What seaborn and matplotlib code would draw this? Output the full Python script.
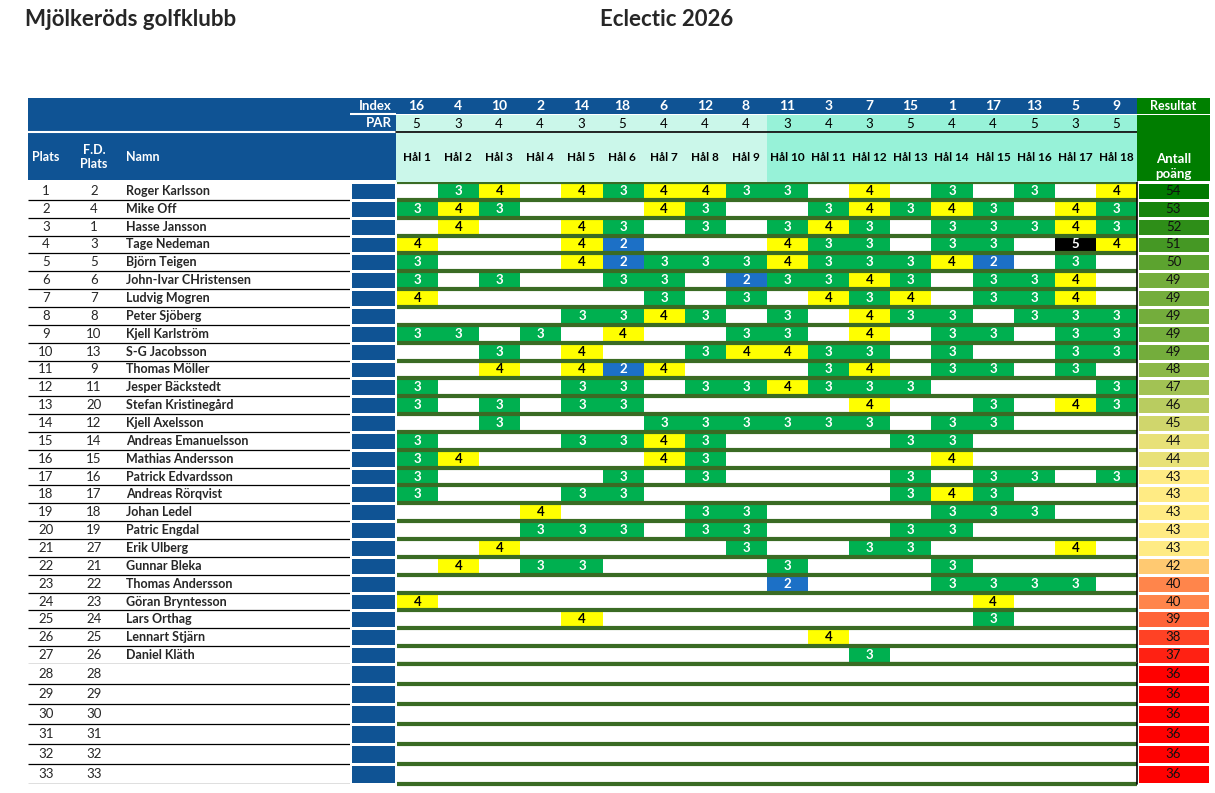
import numpy as np
import matplotlib.pyplot as plt
import seaborn as sns
from matplotlib.colors import ListedColormap, LinearSegmentedColormap

sns.set_style("white")
plt.rcParams["font.family"] = ["Lato", "DejaVu Sans"]

# --- data read from the sheet
hole_no = [1, 2, 3, 4, 5, 6, 7, 8, 9, 10, 11, 12, 13, 14, 15, 16, 17, 18]
hole_index = [16, 4, 10, 2, 14, 18, 6, 12, 8, 11, 3, 7, 15, 1, 17, 13, 5, 9]
hole_par = [5, 3, 4, 4, 3, 5, 4, 4, 4, 3, 4, 3, 5, 4, 4, 5, 3, 5]

plats = [1, 2, 3, 4, 5, 6, 7, 8, 9, 10, 11, 12, 13, 14, 15, 16, 17,
         18, 19, 20, 21, 22, 23, 24, 25, 26, 27, 28, 29, 30, 31, 32, 33]
fd_plats = [2, 4, 1, 3, 5, 6, 7, 8, 10, 13, 9, 11, 20, 12, 14, 15, 16,
            17, 18, 19, 27, 21, 22, 23, 24, 25, 26, 28, 29, 30, 31, 32, 33]
names = ["Roger Karlsson", "Mike Off", "Hasse Jansson", "Tage Nedeman",
         "Björn Teigen", "John-Ivar CHristensen", "Ludvig Mogren",
         "Peter Sjöberg", "Kjell Karlström", "S-G Jacobsson", "Thomas Möller",
         "Jesper Bäckstedt", "Stefan Kristinegård", "Kjell Axelsson",
         "Andreas Emanuelsson", "Mathias Andersson", "Patrick Edvardsson",
         "Andreas Rörqvist", "Johan Ledel", "Patric Engdal", "Erik Ulberg",
         "Gunnar Bleka", "Thomas Andersson", "Göran Bryntesson", "Lars Orthag",
         "Lennart Stjärn", "Daniel Kläth", "", "", "", "", "", ""]
resultat = [54, 53, 52, 51, 50, 49, 49, 49, 49, 49, 48, 47, 46, 45, 44, 44, 43,
            43, 43, 43, 43, 42, 40, 40, 39, 38, 37, 36, 36, 36, 36, 36, 36]

# best score per hole, 0 = empty cell
scores = [
    [0, 3, 4, 0, 4, 3, 4, 4, 3, 3, 0, 4, 0, 3, 0, 3, 0, 4],
    [3, 4, 3, 0, 0, 0, 4, 3, 0, 0, 3, 4, 3, 4, 3, 0, 4, 3],
    [0, 4, 0, 0, 4, 3, 0, 3, 0, 3, 4, 3, 0, 3, 3, 3, 4, 3],
    [4, 0, 0, 0, 4, 2, 0, 0, 0, 4, 3, 3, 0, 3, 3, 0, 5, 4],
    [3, 0, 0, 0, 4, 2, 3, 3, 3, 4, 3, 3, 3, 4, 2, 0, 3, 0],
    [3, 0, 3, 0, 0, 3, 3, 0, 2, 3, 3, 4, 3, 0, 3, 3, 4, 0],
    [4, 0, 0, 0, 0, 0, 3, 0, 3, 0, 4, 3, 4, 0, 3, 3, 4, 0],
    [0, 0, 0, 0, 3, 3, 4, 3, 0, 3, 0, 4, 3, 3, 0, 3, 3, 3],
    [3, 3, 0, 3, 0, 4, 0, 0, 3, 3, 0, 4, 0, 3, 3, 0, 3, 3],
    [0, 0, 3, 0, 4, 0, 0, 3, 4, 4, 3, 3, 0, 3, 0, 0, 3, 3],
    [0, 0, 4, 0, 4, 2, 4, 0, 0, 0, 3, 4, 0, 3, 3, 0, 3, 0],
    [3, 0, 0, 0, 3, 3, 0, 3, 3, 4, 3, 3, 3, 0, 0, 0, 0, 3],
    [3, 0, 3, 0, 3, 3, 0, 0, 0, 0, 0, 4, 0, 0, 3, 0, 4, 3],
    [0, 0, 3, 0, 0, 0, 3, 3, 3, 3, 3, 3, 0, 3, 3, 0, 0, 0],
    [3, 0, 0, 0, 3, 3, 4, 3, 0, 0, 0, 0, 3, 3, 0, 0, 0, 0],
    [3, 4, 0, 0, 0, 0, 4, 3, 0, 0, 0, 0, 0, 4, 0, 0, 0, 0],
    [3, 0, 0, 0, 0, 3, 0, 3, 0, 0, 0, 0, 3, 0, 3, 3, 0, 3],
    [3, 0, 0, 0, 3, 3, 0, 0, 0, 0, 0, 0, 3, 4, 3, 0, 0, 0],
    [0, 0, 0, 4, 0, 0, 0, 3, 3, 0, 0, 0, 0, 3, 3, 3, 0, 0],
    [0, 0, 0, 3, 3, 3, 0, 3, 3, 0, 0, 0, 3, 3, 0, 0, 0, 0],
    [0, 0, 4, 0, 0, 0, 0, 0, 3, 0, 0, 3, 3, 0, 0, 0, 4, 0],
    [0, 4, 0, 3, 3, 0, 0, 0, 0, 3, 0, 0, 0, 3, 0, 0, 0, 0],
    [0, 0, 0, 0, 0, 0, 0, 0, 0, 2, 0, 0, 0, 3, 3, 3, 3, 0],
    [4, 0, 0, 0, 0, 0, 0, 0, 0, 0, 0, 0, 0, 0, 4, 0, 0, 0],
    [0, 0, 0, 0, 4, 0, 0, 0, 0, 0, 0, 0, 0, 0, 3, 0, 0, 0],
    [0, 0, 0, 0, 0, 0, 0, 0, 0, 0, 4, 0, 0, 0, 0, 0, 0, 0],
    [0, 0, 0, 0, 0, 0, 0, 0, 0, 0, 0, 3, 0, 0, 0, 0, 0, 0],
    [0] * 18,
    [0] * 18,
    [0] * 18,
    [0] * 18,
    [0] * 18,
    [0] * 18,
]

# --- colours
BLUE = "#0f5394"
LINE_GREEN = "#3a6b24"
MINT = ["#cbf7ea", "#97f2d8"]
cell_cmap = ListedColormap(["white", "#1c70c6", "#00b050", "#ffff00", "black"])
code_of = {0: 0, 2: 1, 3: 2, 4: 3, 5: 4}
res_cmap = LinearSegmentedColormap.from_list(
    "res", [(0.0, "#ff0000"), ((43 - 36) / (54 - 36), "#ffeb84"), (1.0, "#007a00")])

W, H = 1215, 793
fig = plt.figure(figsize=(W / 100, H / 100), dpi=100)


def px_axes(x0, y0, x1, y1):
    # axes placed in pixel coords, y measured from top
    return fig.add_axes([x0 / W, 1 - y1 / H, (x1 - x0) / W, (y1 - y0) / H])


def plain(ax):
    ax.set_xticks([])
    ax.set_yticks([])
    for s in ax.spines.values():
        s.set_visible(False)


def draw_block(r0, r1, y_top, y_bot):
    n = r1 - r0
    rows = scores[r0:r1]
    codes = np.array([[code_of[v] for v in row] for row in rows])
    labels = np.array([[str(v) if v else "" for v in row] for row in rows])

    # score grid
    ax = px_axes(397, y_top, 1137, y_bot)
    sns.heatmap(codes, cmap=cell_cmap, vmin=-0.5, vmax=4.5, annot=labels, fmt="",
                cbar=False, xticklabels=False, yticklabels=False,
                annot_kws=dict(fontsize=9.5, fontweight="bold"), ax=ax)
    for t in ax.texts:
        t.set_color("black" if t.get_text() == "4" else "white")
    ax.hlines(np.arange(n + 1), 0, len(hole_no), colors=LINE_GREEN, lw=3, clip_on=False)

    # result column
    ax = px_axes(1137, y_top, 1210, y_bot)
    sns.heatmap(np.array(resultat[r0:r1])[:, None], cmap=res_cmap, vmin=36, vmax=54,
                annot=True, fmt="d", cbar=False, linewidths=1, linecolor="white",
                xticklabels=False, yticklabels=False,
                annot_kws=dict(fontsize=9.5, color="#111111"), ax=ax)
    ax.axvline(0, color="black", lw=1.2, clip_on=False)

    # blue column next to the names
    ax = px_axes(350, y_top, 396, y_bot)
    sns.heatmap(np.zeros((n, 1)), cmap=ListedColormap([BLUE]), cbar=False,
                linewidths=1, linecolor="white", xticklabels=False,
                yticklabels=False, ax=ax)

    # Plats / F.D. Plats / Namn
    ax = px_axes(28, y_top, 350, y_bot)
    ax.set_xlim(28, 350)
    ax.set_ylim(n, 0)
    ax.axis("off")
    for i in range(n):
        r = r0 + i
        ax.text(46, i + 0.5, str(plats[r]), ha="center", va="center", fontsize=9.5)
        ax.text(94, i + 0.5, str(fd_plats[r]), ha="center", va="center", fontsize=9.5)
        ax.text(126, i + 0.5, names[r], ha="left", va="center", fontsize=9,
                fontweight="bold")
    ax.hlines(np.arange(1, n + 1), 28, 350, colors="black", lw=0.9)


# rows 1-27 are a bit tighter than the empty rows 28-33
draw_block(0, 27, 182, 664)
draw_block(27, 33, 664, 784)

# --- header, left part
ax = px_axes(28, 98, 396, 180)
ax.set_facecolor(BLUE)
plain(ax)
ax.set_xlim(28, 396)
ax.set_ylim(180, 98)
ax.axhline(132, color="white", lw=1.5)
ax.hlines(114, 350, 396, colors="white", lw=1.5)
ax.text(392, 106, "Index", ha="right", va="center", color="white", fontsize=9.5, fontweight="bold")
ax.text(392, 123, "PAR", ha="right", va="center", color="white", fontsize=9.5, fontweight="bold")
ax.text(46, 157, "Plats", ha="center", va="center", color="white", fontsize=9, fontweight="bold")
ax.text(94, 157, "F.D.\nPlats", ha="center", va="center", color="white", fontsize=9,
        fontweight="bold", linespacing=1.3)
ax.text(126, 157, "Namn", ha="left", va="center", color="white", fontsize=9, fontweight="bold")

# --- header, hole rows
half = np.array([[0 if h <= 9 else 1 for h in hole_no]])

ax = px_axes(396, 98, 1137, 114)
sns.heatmap(np.zeros((1, len(hole_no))), cmap=ListedColormap([BLUE]), cbar=False,
            annot=np.array([hole_index]), fmt="d", xticklabels=False, yticklabels=False,
            annot_kws=dict(fontsize=10, fontweight="bold", color="white"), ax=ax)

ax = px_axes(396, 115, 1137, 132)
sns.heatmap(half, cmap=ListedColormap(MINT), vmin=-0.5, vmax=1.5, cbar=False,
            annot=np.array([hole_par]), fmt="d", xticklabels=False, yticklabels=False,
            annot_kws=dict(fontsize=9.5, color="black"), ax=ax)
ax.axhline(1, color="black", lw=1.2, clip_on=False)

ax = px_axes(396, 133, 1137, 182)
sns.heatmap(half, cmap=ListedColormap(MINT), vmin=-0.5, vmax=1.5, cbar=False,
            annot=np.array([[f"Hål {h}" for h in hole_no]]), fmt="",
            xticklabels=False, yticklabels=False,
            annot_kws=dict(fontsize=8.5, fontweight="bold", color="black"), ax=ax)

# --- header, result column
ax = px_axes(1137, 98, 1210, 114)
ax.set_facecolor("#008000")
plain(ax)
ax.text(0.5, 0.5, "Resultat", transform=ax.transAxes, ha="center", va="center",
        color="white", fontsize=9, fontweight="bold")

ax = px_axes(1137, 115, 1210, 181)
ax.set_facecolor("#007d00")
plain(ax)
ax.text(0.5, 0.22, "Antall\npoäng", transform=ax.transAxes, ha="center", va="center",
        color="white", fontsize=9.5, fontweight="bold", linespacing=1.35)

# --- titles
fig.text(25 / W, 1 - 20 / H, "Mjölkeröds golfklubb", ha="left", va="center",
         fontsize=16, fontweight="bold")
fig.text(667 / W, 1 - 20 / H, "Eclectic 2026", ha="center", va="center",
         fontsize=16, fontweight="bold")

fig.savefig("out.png", dpi=100)
plt.close(fig)
